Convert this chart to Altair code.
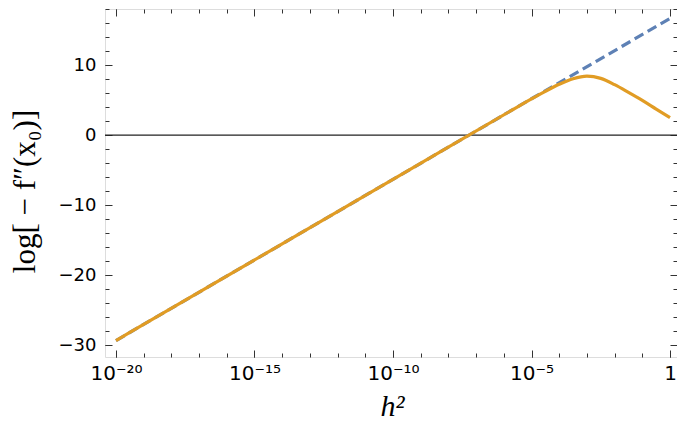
import altair as alt
import pandas as pd

# ---- data (x given as log10 of h^2) ----
blue_exp = [-20, -10, -5, 0]
blue_val = [-29.35, -6.33, 5.19, 16.65]

orange_exp = [-20, -10, -5.5, -5.0, -4.5, -4.0, -3.5, -3.0, -2.5, -2.0, -1.5, -1.0, -0.5, 0.0]
orange_val = [-29.35, -6.33, 4.04, 5.17, 6.25, 7.25, 8.05, 8.42, 8.1, 7.2, 6.1, 4.95, 3.72, 2.5]

x_major_exp = [-20, -15, -10, -5, 0]
x_major_lab = ["10⁻²⁰", "10⁻¹⁵", "10⁻¹⁰", "10⁻⁵", "1"]
x_minor_exp = list(range(-20, 1))
y_major = [-30, -20, -10, 0, 10]
y_minor = list(range(-30, 19, 2))

df_blue = pd.DataFrame({"h2": [10.0 ** e for e in blue_exp], "v": blue_val})
df_orange = pd.DataFrame({"h2": [10.0 ** e for e in orange_exp], "v": orange_val})
df_zero = pd.DataFrame({"v": [0]})

W, H = 572, 348
FRAME = "#333333"

xscale = alt.Scale(type="log", domain=[10 ** -20.396, 10 ** 0.252], nice=False)
yscale = alt.Scale(domain=[-31.7, 18.01], nice=False, zero=False)

parts = [f"round(log(datum.value)/LN10) == {e} ? '{lab}'" for e, lab in zip(x_major_exp, x_major_lab)]
x_label_expr = " : ".join(parts) + " : ''"

x_major_vals = [10.0 ** e for e in x_major_exp]
x_minor_vals = [10.0 ** e for e in x_minor_exp]


def tick_axis(orient, values, size):
    return alt.Axis(orient=orient, values=values, labels=False, domain=False, grid=False,
                    ticks=True, tickSize=size, offset=-size, tickColor=FRAME, tickWidth=1,
                    title=None)


x_label_axis = alt.Axis(orient="bottom", values=x_major_vals, labelExpr=x_label_expr,
                        ticks=False, domain=False, grid=False, labelPadding=6,
                        labelFont="DejaVu Sans", labelFontSize=20, labelColor="black",
                        labelFlush=False, labelOverlap=False,
                        title="h²", titleFont="Liberation Serif", titleFontStyle="italic",
                        titleFontWeight="normal", titleFontSize=30, titleColor="black",
                        titleX=W / 2 + 1, titleY=49, titleBaseline="middle", titleAlign="center")

y_label_axis = alt.Axis(orient="left", values=y_major, ticks=False, domain=False, grid=False,
                        labelPadding=9, labelFont="DejaVu Sans", labelFontSize=18,
                        labelColor="black",
                        title="log[ − f″(x₀)]", titleFont="Liberation Serif",
                        titleFontWeight="normal", titleFontSize=31, titleColor="black",
                        titleX=-80, titleY=H / 2 + 8, titleBaseline="middle", titleAlign="center",
                        titleAngle=270)

zero_rule = alt.Chart(df_zero).mark_rule(color="#222222", strokeWidth=1.2).encode(
    y=alt.Y("v:Q", scale=yscale, axis=None)
)

blue = alt.Chart(df_blue).mark_line(color="#5E81B5", strokeWidth=3.2, strokeDash=[10, 5]).encode(
    x=alt.X("h2:Q", scale=xscale, axis=x_label_axis),
    y=alt.Y("v:Q", scale=yscale, axis=y_label_axis),
)

orange = alt.Chart(df_orange).mark_line(color="#E19C24", strokeWidth=3.2,
                                        interpolate="monotone").encode(
    x=alt.X("h2:Q", scale=xscale, axis=tick_axis("bottom", x_major_vals, 7)),
    y=alt.Y("v:Q", scale=yscale, axis=tick_axis("left", y_major, 7)),
)


def ghost(xaxis, yaxis):
    return alt.Chart(df_blue).mark_line(strokeOpacity=0).encode(
        x=alt.X("h2:Q", scale=xscale, axis=xaxis),
        y=alt.Y("v:Q", scale=yscale, axis=yaxis),
    )


g1 = ghost(tick_axis("bottom", x_minor_vals, 4), tick_axis("left", y_minor, 4))
g2 = ghost(tick_axis("top", x_major_vals, 7), tick_axis("right", y_major, 7))
g3 = ghost(tick_axis("top", x_minor_vals, 4), tick_axis("right", y_minor, 4))

chart = (
    alt.layer(zero_rule, blue, orange, g1, g2, g3)
    .resolve_axis(x="independent", y="independent")
    .properties(width=W, height=H, autosize=alt.AutoSizeParams(type="none"),
                padding={"left": 97, "top": 1, "right": 0, "bottom": 67})
    .configure_view(stroke=FRAME, strokeWidth=1)
    .configure(background="white")
)

chart.save("out.html", embed_options={"renderer": "svg", "actions": False})
